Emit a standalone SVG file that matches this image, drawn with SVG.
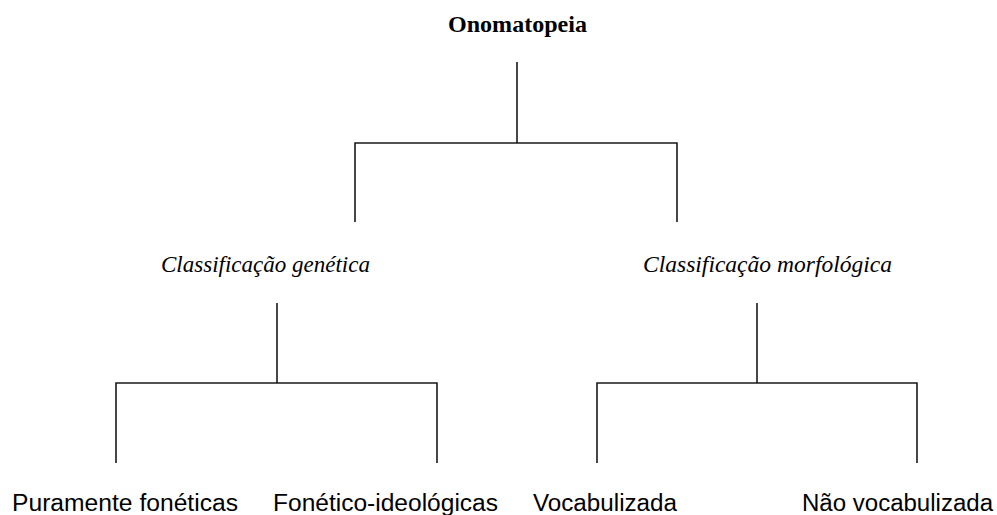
<svg xmlns="http://www.w3.org/2000/svg" width="997" height="515" viewBox="0 0 997 515">
<style>
.ln{stroke:#1a1a1a;stroke-width:1.6;fill:none}
.t0{font-family:"Liberation Serif",serif;font-weight:bold;font-size:23px;fill:#000}
.t1{font-family:"Liberation Serif",serif;font-style:italic;font-size:23px;fill:#000}
.t2{font-family:"Liberation Sans",sans-serif;font-size:23px;fill:#000}
</style>
<rect width="997" height="515" fill="#fff"/>
<g id="connectors">
<path class="ln" d="M517 62V143M355 222V143H677V222"/>
<path class="ln" d="M277 303V383M116 463V383H437V463"/>
<path class="ln" d="M757 303V383M597 463V383H917V463"/>
</g>
<g id="root"><text class="t0" x="517.5" y="32" text-anchor="middle" textLength="139" lengthAdjust="spacingAndGlyphs">Onomatopeia</text></g>
<g id="genetica"><text class="t1" x="265.5" y="272" text-anchor="middle" textLength="209" lengthAdjust="spacingAndGlyphs">Classificação genética</text></g>
<g id="morfologica"><text class="t1" x="767.5" y="272" text-anchor="middle" textLength="249" lengthAdjust="spacingAndGlyphs">Classificação morfológica</text></g>
<g id="puramente"><text class="t2" x="125" y="511" text-anchor="middle" textLength="226" lengthAdjust="spacingAndGlyphs">Puramente fonéticas</text></g>
<g id="fonetico"><text class="t2" x="385.5" y="511" text-anchor="middle" textLength="225" lengthAdjust="spacingAndGlyphs">Fonético-ideológicas</text></g>
<g id="vocabulizada"><text class="t2" x="605" y="511" text-anchor="middle" textLength="144" lengthAdjust="spacingAndGlyphs">Vocabulizada</text></g>
<g id="naovocabulizada"><text class="t2" x="897.5" y="511" text-anchor="middle" textLength="191" lengthAdjust="spacingAndGlyphs">Não vocabulizada</text></g>
</svg>
